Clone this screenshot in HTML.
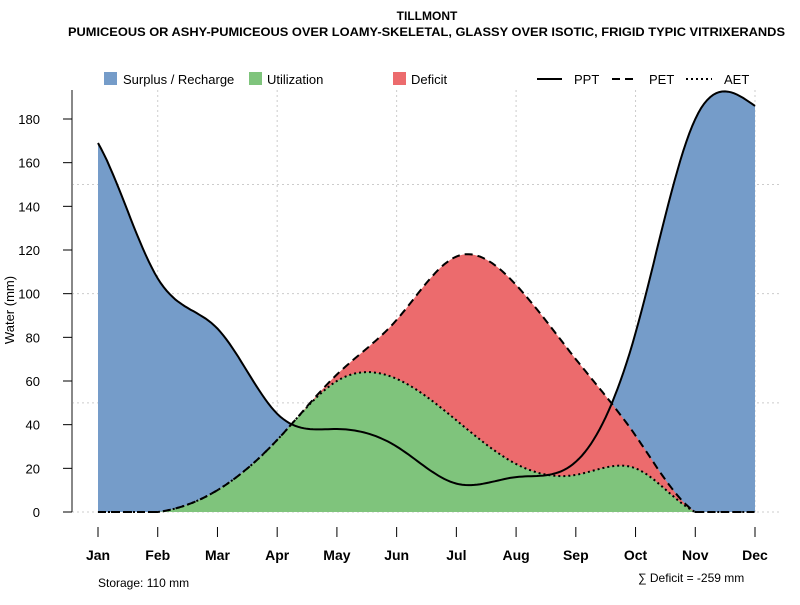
<!DOCTYPE html>
<html><head><meta charset="utf-8"><style>
body{margin:0;background:#fff;}
svg{font-family:"Liberation Sans",sans-serif;}
</style></head><body>
<svg id="chart" width="800" height="600" viewBox="0 0 800 600" xmlns="http://www.w3.org/2000/svg">
<text x="427" y="20" text-anchor="middle" font-size="12" font-weight="bold">TILLMONT</text>
<text x="68" y="36" font-size="12" font-weight="bold" textLength="717" lengthAdjust="spacingAndGlyphs">PUMICEOUS OR ASHY-PUMICEOUS OVER LOAMY-SKELETAL, GLASSY OVER ISOTIC, FRIGID TYPIC VITRIXERANDS</text>
<g id="grid"></g>
<g id="areas"></g>
<g id="lines"></g>
<g id="axes"></g>
<g font-size="13">
<rect x="104" y="72" width="13" height="13" fill="#759cc9"/>
<text x="123" y="84">Surplus / Recharge</text>
<rect x="249" y="72" width="13" height="13" fill="#7fc47c"/>
<text x="267" y="84">Utilization</text>
<rect x="393" y="72" width="13" height="13" fill="#ec6b6d"/>
<text x="411" y="84">Deficit</text>
<line x1="537" y1="79" x2="562" y2="79" stroke="#000" stroke-width="2"/>
<text x="574" y="84">PPT</text>
<line x1="612" y1="79" x2="637" y2="79" stroke="#000" stroke-width="2" stroke-dasharray="8,5"/>
<text x="649" y="84">PET</text>
<line x1="686" y1="79" x2="712" y2="79" stroke="#000" stroke-width="2" stroke-dasharray="2,3"/>
<text x="724" y="84">AET</text>
</g>
<text transform="translate(14,310) rotate(-90)" text-anchor="middle" font-size="13">Water (mm)</text>
<text x="98" y="587" font-size="12">Storage: 110 mm</text>
<text x="638" y="582" font-size="12">∑ Deficit = -259 mm</text>
</svg>
<script>
const months=["Jan","Feb","Mar","Apr","May","Jun","Jul","Aug","Sep","Oct","Nov","Dec"];
const ppt=[169,107,84,45,38,30,13,16,23,82,180,186];
const pet=[0,0,10,33,63,88,117,104,70,35,0,0];
const aet=[0,0,10,33,60,61,42,22,17,20,0,0];
const yTicks=[0,20,40,60,80,100,120,140,160,180];
const yGrid=[0,50,100,150];
const NS="http://www.w3.org/2000/svg";
const X=i=>98+i*(755-98)/11;
const Y=v=>512-v*(393/180);
function mk(tag,attrs,parent){const e=document.createElementNS(NS,tag);for(const k in attrs)e.setAttribute(k,attrs[k]);parent.appendChild(e);return e;}
function spline(y0){const y=[y0[y0.length-1]].concat(y0,[y0[0]]);const n=y.length,a=new Array(n).fill(0),b=new Array(n).fill(0),c=new Array(n).fill(0),d=new Array(n).fill(0),m=new Array(n).fill(0);
for(let i=1;i<n-1;i++){a[i]=1;b[i]=4;c[i]=1;d[i]=6*(y[i+1]-2*y[i]+y[i-1]);}
b[0]=1;b[n-1]=1;
for(let i=1;i<n;i++){const w=a[i]/b[i-1];b[i]-=w*c[i-1];d[i]-=w*d[i-1];}
m[n-1]=d[n-1]/b[n-1];for(let i=n-2;i>=0;i--)m[i]=(d[i]-c[i]*m[i+1])/b[i];
const pts=[];for(let i=1;i<n-2;i++){for(let s=0;s<20;s++){const t=s/20;
const v=(1-t)*y[i]+t*y[i+1]+((Math.pow(1-t,3)-(1-t))*m[i]+(Math.pow(t,3)-t)*m[i+1])/6;pts.push([i-1+t,Math.max(0,v)]);}}
pts.push([n-3,y[n-2]]);return pts;}
function area(pts,fill,name){let d=`M${X(0)},${Y(0)}`;pts.forEach(p=>d+=`L${X(p[0]).toFixed(1)},${Y(p[1]).toFixed(1)}`);d+=`L${X(11)},${Y(0)}Z`;
const e=mk('path',{d:d,fill:fill},document.getElementById('areas'));

}
function line(pts,dash,name){const d='M'+pts.map(p=>`${X(p[0]).toFixed(1)},${Y(p[1]).toFixed(1)}`).join('L');
const e=mk('path',{d:d,fill:'none',stroke:'#000','stroke-width':2,'stroke-dasharray':dash},document.getElementById('lines'));

}
const sp=spline(ppt),se=spline(pet),sa=spline(aet);
area(sp,'#759cc9','surplus-area');area(se,'#ec6b6d','deficit-area');area(sa,'#7fc47c','utilization-area');
const g=document.getElementById('grid');
yGrid.forEach(v=>{const e=mk('line',{x1:72,x2:782,y1:Y(v),y2:Y(v),stroke:'#ccc','stroke-dasharray':'2,3'},g);

});
months.forEach((m,i)=>{if(i%2==1){const e=mk('line',{x1:X(i),x2:X(i),y1:90,y2:512,stroke:'#ccc','stroke-dasharray':'2,3'},g);

}});
line(sp,'','ppt-line');line(se,'8,5','pet-line');line(sa,'2,3','aet-line');
const ax=document.getElementById('axes');
let e=mk('line',{x1:72,x2:72,y1:90,y2:512,stroke:'#888','stroke-width':2},ax);


yTicks.forEach(v=>{const t=mk('line',{x1:63,x2:72,y1:Y(v),y2:Y(v),stroke:'#000'},ax);


const l=mk('text',{x:40,y:Y(v)+5,'text-anchor':'end','font-size':13},ax);l.textContent=v;

});
months.forEach((m,i)=>{const t=mk('line',{x1:X(i),x2:X(i),y1:527,y2:537,stroke:'#000'},ax);


const l=mk('text',{x:X(i),y:560,'text-anchor':'middle','font-size':14,'font-weight':'bold'},ax);l.textContent=m;

});
</script>
</body></html>
